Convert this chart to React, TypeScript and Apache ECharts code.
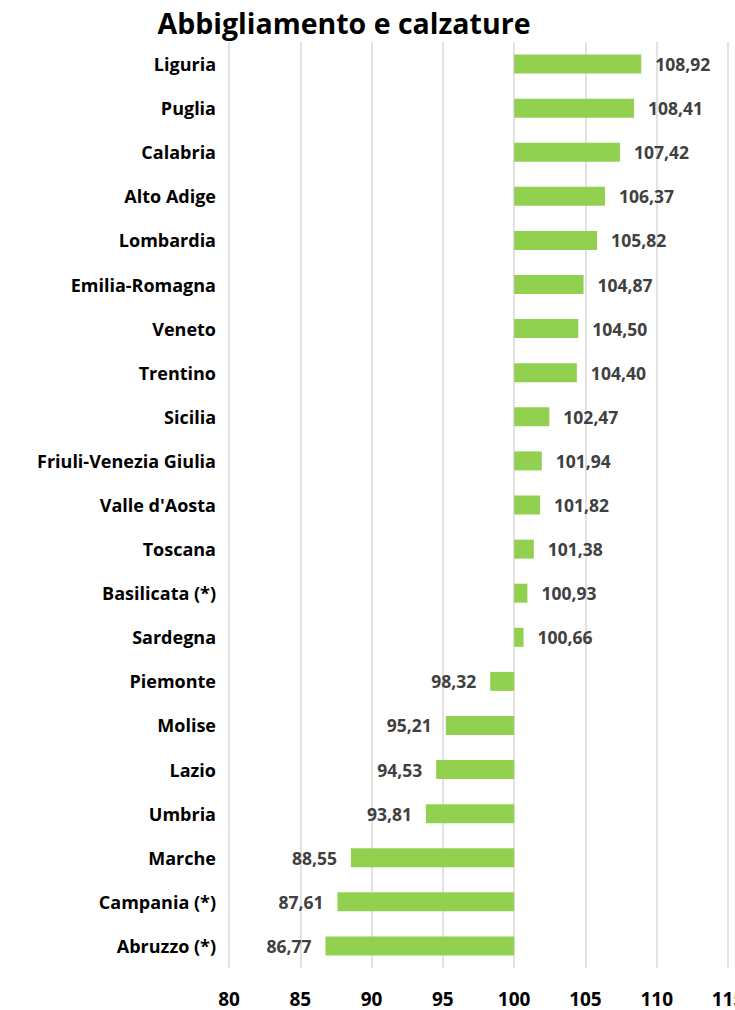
import React, { useEffect, useRef } from "react";
import * as echarts from "echarts";

const categories = [
  "Liguria", "Puglia", "Calabria", "Alto Adige", "Lombardia", "Emilia-Romagna",
  "Veneto", "Trentino", "Sicilia", "Friuli-Venezia Giulia", "Valle d'Aosta",
  "Toscana", "Basilicata (*)", "Sardegna", "Piemonte", "Molise", "Lazio",
  "Umbria", "Marche", "Campania (*)", "Abruzzo (*)",
];
const values = [
  108.92, 108.41, 107.42, 106.37, 105.82, 104.87, 104.5, 104.4, 102.47, 101.94,
  101.82, 101.38, 100.93, 100.66, 98.32, 95.21, 94.53, 93.81, 88.55, 87.61, 86.77,
];
const baseline = 100;
const title = "Abbigliamento e calzature";

export default function App() {
  const ref = useRef<HTMLDivElement>(null);
  useEffect(() => {
    if (!ref.current) return;
    const chart = echarts.init(ref.current, undefined, { renderer: "svg" });
    const baseData = values.map((v) => Math.min(v, baseline));
    const deltaData = values.map((v, i) => ({
      value: Math.abs(v - baseline),
      label: {
        show: true,
        position: v >= baseline ? "right" : "left",
        distance: 14,
        formatter: () => values[i].toFixed(2).replace(".", ","),
      },
    }));
    chart.setOption({
      animation: false,
      title: {
        text: title,
        left: 339,
        textAlign: "center",
        top: 3,
        textStyle: {
          fontFamily: "Open Sans",
          fontWeight: "bold",
          fontSize: 28.5,
          color: "#000",
        },
      },
      grid: {
        left: 229,
        right: 7,
        top: 42,
        bottom: 42,
        containLabel: false,
        outerBoundsMode: "none",
      },
      xAxis: {
        type: "value",
        min: 80,
        max: 115,
        interval: 5,
        axisLine: { show: false },
        axisTick: { show: false },
        splitLine: { show: true, lineStyle: { color: "#d9d9d9", width: 1.5 } },
        axisLabel: {
          margin: 21,
          fontFamily: "Open Sans",
          fontWeight: "bold",
          fontSize: 19,
          color: "#000",
        },
      },
      yAxis: {
        type: "category",
        data: categories,
        inverse: true,
        axisLine: { show: false },
        axisTick: { show: false },
        axisLabel: {
          margin: 13,
          fontFamily: "Open Sans",
          fontWeight: "bold",
          fontSize: 18,
          color: "#000",
        },
      },
      series: [
        {
          type: "bar",
          stack: "s",
          data: baseData,
          barWidth: 19,
          itemStyle: { color: "transparent" },
          silent: true,
        },
        {
          type: "bar",
          stack: "s",
          data: deltaData,
          barWidth: 19,
          itemStyle: { color: "#92d050" },
          label: {
            fontFamily: "Open Sans",
            fontWeight: "bold",
            fontSize: 17.5,
            color: "#404040",
          },
        },
      ],
    });
    return () => chart.dispose();
  }, []);
  return (
    <div
      ref={ref}
      style={{ position: "fixed", left: 0, top: 0, width: 735, height: 1010, background: "#fff" }}
    />
  );
}
